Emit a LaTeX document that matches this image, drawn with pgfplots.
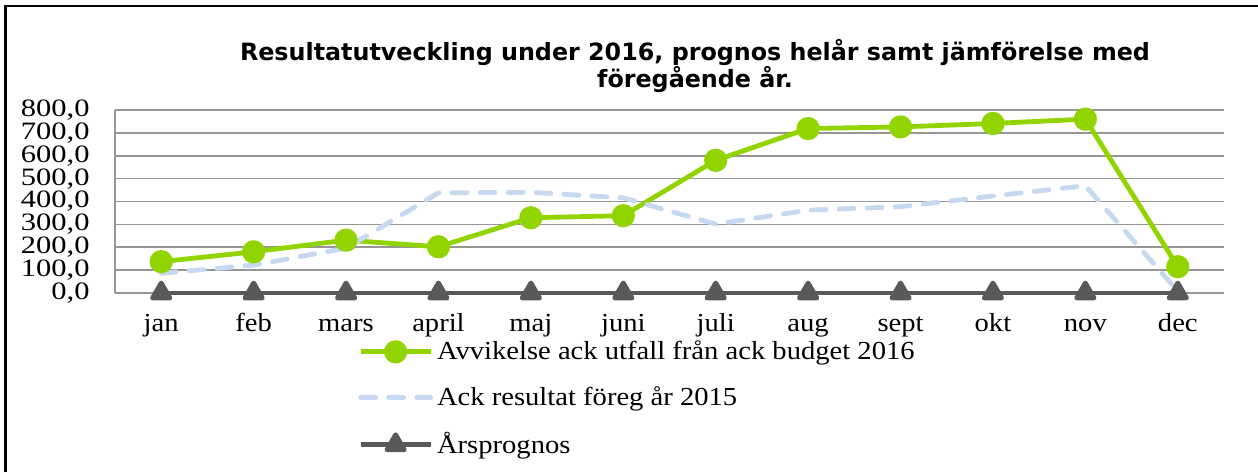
\documentclass[border=0pt]{standalone}
\usepackage{fontspec}
\setmainfont{Liberation Serif}[FakeStretch=1.1]
\newfontfamily\numfont{Liberation Serif}[FakeStretch=1.22]
\newfontfamily\titlefont{DejaVu Sans}
\usepackage{pgfplots}
\pgfplotsset{compat=1.18}
\definecolor{cgreen}{HTML}{92D400}
\definecolor{cblue}{HTML}{C6D9F1}
\definecolor{cgray}{HTML}{595959}
\definecolor{cgrid}{HTML}{969696}
\begin{document}
\begin{tikzpicture}
\path[use as bounding box] (0,0) rectangle (629pt,236pt);
\draw[line width=1.4pt,black] (2.9pt,0) -- (2.9pt,233pt) -- (629pt,233pt);
\node[align=center,font=\titlefont\bfseries\fontsize{11.9}{14}\selectfont] at (347.5pt,203pt)
  {Resultatutveckling under 2016, prognos helår samt jämförelse med\\föregående år.};
\begin{axis}[
  at={(57.5pt,89.5pt)}, anchor=south west,
  scale only axis, width=554.5pt, height=91.5pt,
  xmin=-0.5, xmax=11.5, ymin=0, ymax=800,
  xtick={0,...,11},
  xticklabels={jan,feb,mars,april,maj,juni,juli,aug,sept,okt,nov,dec},
  ytick={0,100,...,800},
  major tick length=0pt,
  axis x line*=bottom, axis y line*=left,
  axis line style={cgrid, line width=0.8pt},
  ymajorgrids, grid style={cgrid, line width=0.8pt},
  xticklabel style={font=\fontsize{13}{13}\selectfont, anchor=base, inner sep=0pt, yshift=-19pt},
  yticklabel style={font=\numfont\fontsize{12.5}{12.5}\selectfont, anchor=east, inner sep=0pt, xshift=-12.5pt},
  /pgf/number format/.cd, fixed, fixed zerofill, precision=1, use comma, assume math mode=true,
  /pgfplots/.cd,
  legend style={at={(0.219,-0.238)}, anchor=north west, draw=none, fill=none,
    font=\fontsize{13}{13}\selectfont, row sep=8pt, inner sep=0pt,
    /tikz/every even column/.append style={column sep=3pt}},
  legend cell align=left,
  legend image code/.code={\draw[mark repeat=2,mark phase=2,#1] plot coordinates {(0pt,0pt) (17.5pt,0pt) (35pt,0pt)};},
  clip=false,
]
\addplot[cgreen, line width=2.4pt, mark=*, mark size=4.6pt, mark options={solid}] coordinates {
 (0,137) (1,180) (2,231) (3,202) (4,329) (5,338) (6,580) (7,719) (8,726) (9,741) (10,760) (11,115)};
\addlegendentry{Avvikelse ack utfall från ack budget 2016}
\addplot[cblue, line width=2.4pt, line cap=round, dash pattern=on 7.5pt off 6.5pt] coordinates {
 (0,86) (1,122) (2,196) (3,438) (4,440) (5,416) (6,301) (7,362) (8,377) (9,424) (10,469) (11,8)};
\addlegendentry{Ack resultat föreg år 2015}
\addplot[cgray, line width=2.4pt, mark=triangle*, mark size=5pt, mark options={solid, line join=round}] coordinates {
 (0,0) (1,0) (2,0) (3,0) (4,0) (5,0) (6,0) (7,0) (8,0) (9,0) (10,0) (11,0)};
\addlegendentry{Årsprognos}
\end{axis}
\end{tikzpicture}
\end{document}
